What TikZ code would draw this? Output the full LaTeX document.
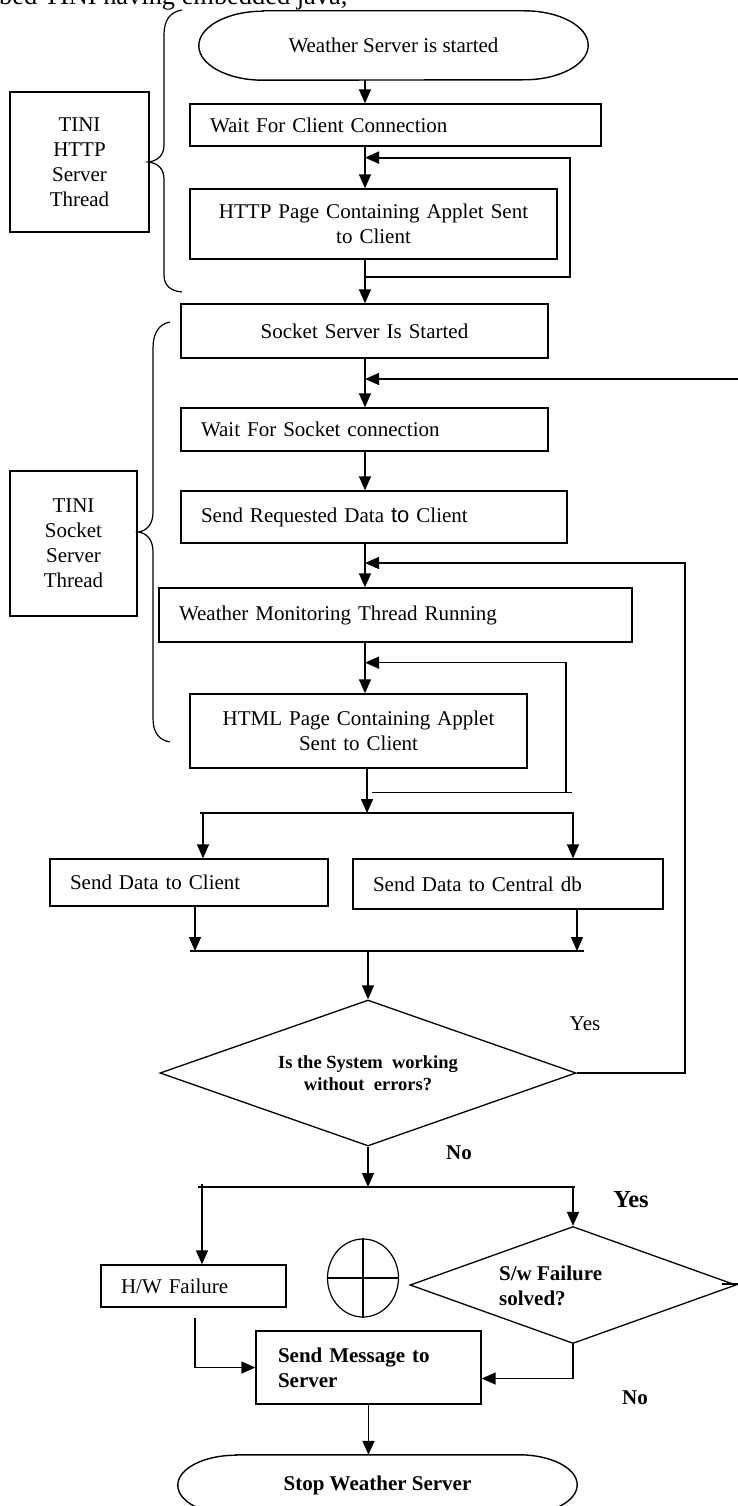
\documentclass[tikz,border=0pt]{standalone}
\usepackage{fontspec}
\setmainfont{Liberation Serif}
\newfontfamily\arialfont{Liberation Sans}
\usetikzlibrary{arrows.meta, shapes.geometric, calc}

\begin{document}
\begin{tikzpicture}[x=1pt, y=-1pt,
  every node/.style={font=\fontsize{21}{25}\selectfont},
  box/.style={draw, line width=1.3pt, rectangle, inner sep=0pt},
  lbox/.style={box, align=left, inner xsep=20pt, text width=#1},
  cbox/.style={box, align=center, text width=#1},
  cond/.style={draw, line width=1.3pt, diamond, inner sep=0pt},
  link/.style={line width=1.4pt},
  arr/.style={link, -{Triangle[length=14pt, width=12pt]}},
  boldtext/.style={font=\bfseries\fontsize{21}{25}\selectfont}]
\useasboundingbox (0,0) rectangle (738,1506);

% page text, cut off at the top
\node[anchor=base west, inner sep=0pt, font=\fontsize{26.4}{30}\selectfont] (pagetext) at (-1,5) {bed TINI having embedded java,};

% HTTP server thread
\node[minimum width=389pt, minimum height=69pt, inner sep=0pt] (start) at (393.5,45.5) {Weather Server is started};
\draw[link] ($(start.north west)+(64,0)$) -- ($(start.north east)+(-64,0)$)
  arc[start angle=90, end angle=-90, x radius=64pt, y radius=34.5pt]
  -- ($(start.south west)+(64,0)$)
  arc[start angle=270, end angle=90, x radius=64pt, y radius=34.5pt] -- cycle;
\node[lbox=371pt, minimum height=42pt] (wclient) at (395.5,125) {Wait For Client Connection};
\node[cbox=367pt, minimum height=70pt] (http) at (373.5,224) {HTTP Page Containing Applet Sent\\to Client};
\node[cbox=139pt, minimum height=140pt] (httpthread) at (79.5,162) {TINI\\HTTP\\Server\\Thread};
\draw[link, line width=1.2pt] (182,10) .. controls (170,12) and (164,20) .. (164,35) -- (164,145)
  .. controls (164,155) and (158,161) .. (148,162) .. controls (158,163) and (164,169) .. (164,179)
  -- (164,275) .. controls (164,285) and (170,291) .. (182,292);

\coordinate (spineA) at (365,0);
\draw[arr] (start.south -| spineA) -- (wclient.north -| spineA);
\draw[arr] (wclient.south -| spineA) -- (http.north -| spineA);
\draw[arr, line width=2pt] (http.south -| spineA) ++(0,17) -| ++(205,-119) -- ++(-205,0);

% socket server thread
\node[cbox=367pt, minimum height=54pt] (socket) at (364.5,331) {Socket Server Is Started};
\node[lbox=327pt, minimum height=43pt] (wsocket) at (364.5,429.5) {Wait For Socket connection};
\node[lbox=346pt, minimum height=52pt] (sendreq) at (374,517) {Send Requested Data {\arialfont\fontsize{22}{25}\selectfont to} Client};
\node[lbox=433pt, minimum height=54pt] (monitor) at (395.5,615) {Weather Monitoring Thread Running};
\node[cbox=337pt, minimum height=74pt] (html) at (358.5,731) {HTML Page Containing Applet\\Sent to Client};
\node[cbox=127pt, minimum height=145pt] (sockthread) at (73.5,543.5) {TINI\\Socket\\Server\\Thread};
\draw[link, line width=1.2pt] (170,322) .. controls (159,324) and (153,333) .. (153,348) -- (153,512)
  .. controls (153,524) and (147,531) .. (138,532) .. controls (147,533) and (153,540) .. (153,552)
  -- (153,718) .. controls (153,733) and (159,740) .. (170,742);

\draw[arr] (http.south -| spineA) -- (socket.north -| spineA);
\draw[arr] (socket.south -| spineA) -- (wsocket.north -| spineA);
\coordinate (backA) at (738,379);
\draw[arr] (backA) -- (backA -| spineA);
\draw[arr] (wsocket.south -| spineA) -- (sendreq.north -| spineA);
\draw[arr] (sendreq.south -| spineA) -- (monitor.north -| spineA);
\draw[arr] (monitor.south -| spineA) -- (html.north -| spineA);

\coordinate (splitA) at (367,813);
\draw[arr] (html.south -| splitA) -- (splitA);
\draw[link] ($(html.south -| splitA)+(5,24)$) -- ++(200,0);
\draw[arr] ($(html.south -| splitA)+(199,24)$) -- ++(0,-130) -- ++(-201,0);

% sending data
\node[lbox=238pt, minimum height=47pt] (sdclient) at (189,882.5) {Send Data to Client};
\node[lbox=270pt, minimum height=50pt] (sdcentral) at (508,884) {Send Data to Central db};
\coordinate (forkL) at (203,813);
\coordinate (forkR) at (573,813);
\draw[link] ($(forkL)+(-3,0)$) -- ($(forkR)+(1,0)$);
\draw[arr] (forkL) -- (forkL |- sdclient.north);
\draw[arr] (forkR) -- (forkR |- sdcentral.north);

\node[cond, aspect=2.85, minimum width=416pt, minimum height=146pt, align=center,
  font=\bfseries\fontsize{18.5}{22}\selectfont] (check) at (368,1073) {Is the System\ \ working\\without\ \ errors?};
\coordinate (mergeL) at (195,951);
\coordinate (mergeR) at (577,951);
\coordinate (mergeC) at (368,951);
\draw[arr] (mergeL |- sdclient.south) -- (mergeL);
\draw[arr] (mergeR |- sdcentral.south) -- (mergeR);
\draw[link] ($(mergeL)+(-5,0)$) -- ($(mergeR)+(7,0)$);
\draw[arr] (mergeC) -- (check.north);

\coordinate (backB) at (685,563);
\draw[arr] (check.east) -| (backB) -- (backB -| spineA);
\node (yes1) at (585,1024) {Yes};
\node[boldtext] (no1) at (459,1153) {No};

% failure handling
\node[lbox=145pt, minimum height=42pt] (hwfail) at (193.5,1286) {H/W Failure};
\node[draw, ellipse, line width=1.2pt, minimum width=71pt, minimum height=78pt, inner sep=0pt] (join) at (363,1278) {};
\draw[line width=1.2pt] (join.north) -- (join.south);
\draw[line width=1.2pt] (join.west) -- (join.east);
\node[cond, aspect=2.8, minimum width=326pt, minimum height=117pt] (swfail) at (573,1285) {};
\node[boldtext, anchor=west, align=left, inner sep=0pt] (swtext) at (499,1285.5) {S/w Failure\\solved?};
\draw[link] ($(swfail.east)+(-15,-1)$) -- ++(18,0);
\node[box, boldtext, align=left, text width=181pt, inner xsep=22pt, minimum height=73pt] (sendmsg) at (368.5,1367.5) {Send Message to\\Server};

\coordinate (forkC) at (368,1187);
\coordinate (forkD) at (202,1187);
\coordinate (forkE) at (573,1187);
\draw[arr] (check.south) -- (forkC);
\draw[link] ($(forkD)+(-4,0)$) -- ($(forkE)+(2,0)$);
\draw[arr] ($(forkD)+(0,-3)$) -- (forkD |- hwfail.north);
\draw[arr] (forkE) -- (swfail.north);
\node[font=\bfseries\fontsize{24.5}{28}\selectfont] (yes2) at (631,1200) {Yes};

\draw[arr] ($(hwfail.south)+(1.5,10)$) |- (sendmsg.west);
\draw[arr] (swfail.south) |- ($(sendmsg.east)+(0,11)$);
\node[boldtext] (no2) at (635,1398) {No};

% end
\node[boldtext, minimum width=399pt, minimum height=60pt, inner sep=0pt] (stop) at (377.5,1485) {Stop Weather Server};
\draw[link] ($(stop.north west)+(58,0)$) -- ($(stop.north east)+(-58,0)$)
  arc[start angle=90, end angle=-90, x radius=58pt, y radius=30pt]
  -- ($(stop.south west)+(58,0)$)
  arc[start angle=270, end angle=90, x radius=58pt, y radius=30pt] -- cycle;
\draw[arr] (sendmsg.south) -- (sendmsg.south |- stop.north);
\end{tikzpicture}
\end{document}
